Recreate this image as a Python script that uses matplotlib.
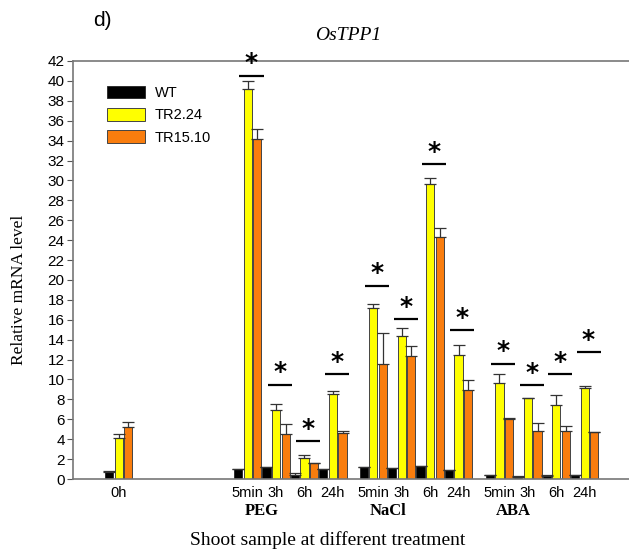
import numpy as np
import matplotlib
matplotlib.use("Agg")
import matplotlib.pyplot as plt

# ---- data: relative mRNA level of OsTPP1 in shoots ----
time_labels = ["0h",
               "5min", "3h", "6h", "24h",
               "5min", "3h", "6h", "24h",
               "5min", "3h", "6h", "24h"]
treatments = ["PEG", "NaCl", "ABA"]

wt      = [0.75, 1.0, 1.2, 0.45, 1.0, 1.25, 1.1, 1.35, 0.9, 0.45, 0.25, 0.3, 0.4]
wt_err  = [0.05, 0.0, 0.0, 0.15, 0.0, 0.0, 0.0, 0.0, 0.0, 0.0, 0.1, 0.1, 0.0]
tr224   = [4.1, 39.2, 6.95, 2.15, 8.5, 17.15, 14.35, 29.6, 12.45, 9.6, 8.1, 7.4, 9.15]
tr224_e = [0.45, 0.75, 0.6, 0.25, 0.35, 0.45, 0.85, 0.65, 1.05, 1.0, 0.05, 1.05, 0.15]
tr1510  = [5.2, 34.2, 4.5, 1.6, 4.65, 11.6, 12.4, 24.3, 8.95, 6.0, 4.8, 4.8, 4.7]
tr1510e = [0.5, 0.95, 1.0, 0.0, 0.15, 3.05, 0.95, 0.95, 0.95, 0.15, 0.85, 0.55, 0.0]
# height of the significance bar above each group (None = no mark)
sig_line = [None, 40.5, 9.45, 3.8, 10.55, 19.4, 16.05, 31.65, 14.95, 11.6, 9.4, 10.55, 12.75]

# ---- x layout: 0h alone, then 4 time points per treatment ----
step = 2.95
xc = [1.0]
for start in [14.4, 27.45, 40.55]:
    for k in range(4):
        xc.append(start + k*step)
xc = np.array(xc)
w = 0.85

plt.rcParams['font.family'] = ['Liberation Sans', 'DejaVu Sans']
fig = plt.figure(figsize=(6.29, 5.57), dpi=100)
ax = fig.add_axes([0.116, 0.14, 0.884, 0.7505])

ekw = dict(ecolor="#333333", elinewidth=0.9, capsize=4.5, capthick=0.9)
zeros = np.zeros(len(xc))
ax.bar(xc-1, wt, w, color="black", edgecolor="#222222", linewidth=0.6, label="WT",
       yerr=[zeros, wt_err], error_kw=ekw)
ax.bar(xc, tr224, w, color="#ffff00", edgecolor="#444444", linewidth=0.7, label="TR2.24",
       yerr=[zeros, tr224_e], error_kw=ekw)
ax.bar(xc+1, tr1510, w, color="#f97d0e", edgecolor="#444444", linewidth=0.7, label="TR15.10",
       yerr=[zeros, tr1510e], error_kw=ekw)

# significance marks
for x, y in zip(xc, sig_line):
    if y is None:
        continue
    ax.plot([x-0.85, x+1.65], [y, y], color="black", lw=1.6, solid_capstyle="butt")
    ax.text(x+0.4, y+0.05, "*", ha="center", va="bottom", fontsize=18,
            fontweight="bold", family="DejaVu Sans")

ax.set_xlim(-3.74, 54.0)
ax.set_ylim(0, 42)
ax.set_yticks(np.arange(0, 43, 2))
ax.tick_params(axis="y", labelsize=11, length=4, width=0.8, color="#555555", pad=2)
ax.set_xticks(xc)
ax.set_xticklabels(time_labels, fontsize=10.5)
ax.tick_params(axis="x", length=0, pad=5)
ax.spines["right"].set_visible(False)
for s in ["left", "top", "bottom"]:
    ax.spines[s].set_color("#777777")
    ax.spines[s].set_linewidth(1.2)

# treatment names under the time labels
for i, name in enumerate(treatments):
    xm = (xc[1+4*i] + xc[2+4*i]) / 2
    ax.text(xm, -3.2, name, ha="center", va="center", fontsize=12,
            fontweight="bold", family="Liberation Serif")

leg = ax.legend(loc="upper left", bbox_to_anchor=(0.048, 0.958), frameon=False,
                borderpad=0, fontsize=10.5, handlelength=2.6, handleheight=0.95,
                labelspacing=0.55, handletextpad=0.7)

fig.text(0.521, 0.031, "Shoot sample at different treatment", ha="center", va="center",
         fontsize=14, family="Liberation Serif")
fig.text(0.03, 0.479, "Relative mRNA level", ha="center", va="center", rotation=90,
         fontsize=12.5, family="Liberation Serif")
fig.text(0.553, 0.936, "OsTPP1", ha="center", va="center", fontsize=14,
         style="italic", family="Liberation Serif")
fig.text(0.162, 0.963, "d)", ha="center", va="center", fontsize=15)

fig.savefig("out.png", dpi=100)
